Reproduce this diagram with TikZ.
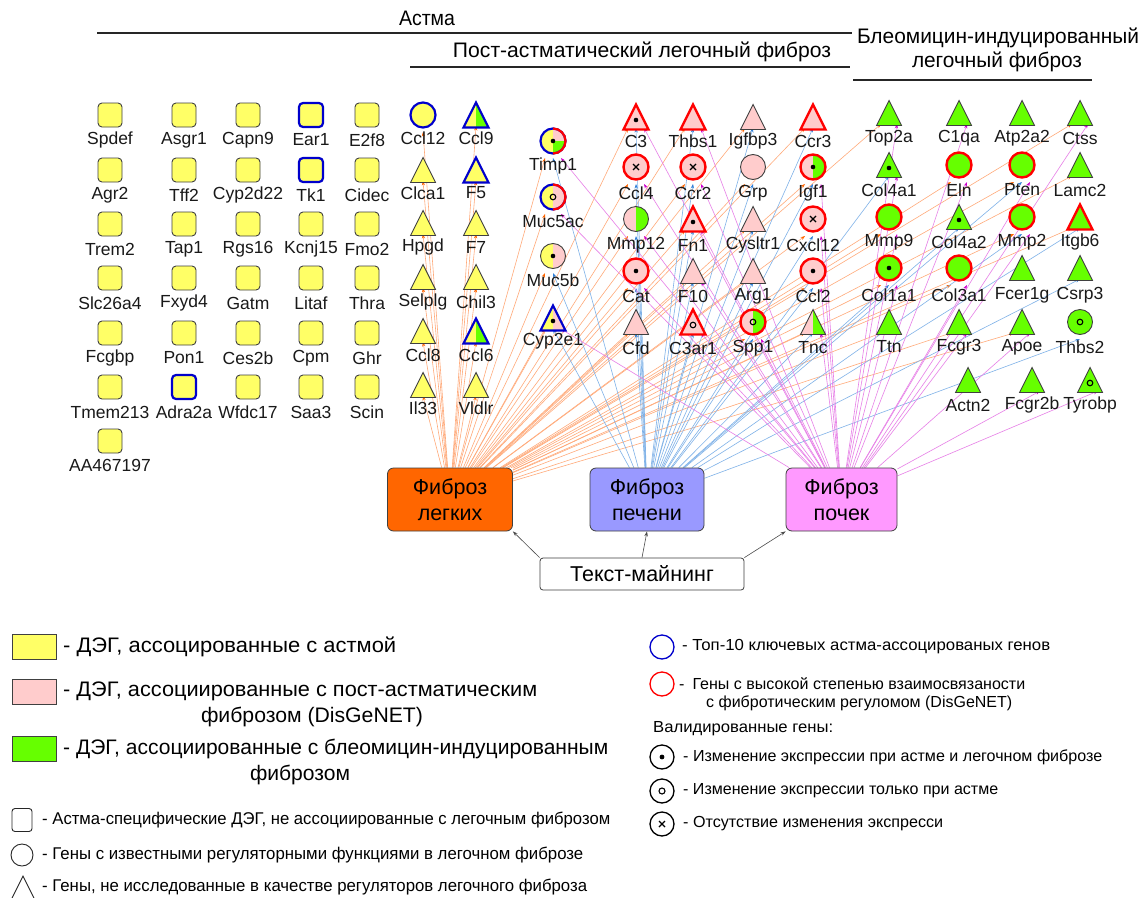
\documentclass[tikz,border=0pt]{standalone}
\usepackage{fontspec}
\setmainfont{Liberation Sans}
\usepackage{graphicx}
\usetikzlibrary{shapes.geometric,arrows.meta,backgrounds}
\pgfdeclarelayer{edges}
\pgfsetlayers{background,edges,main}
\definecolor{gyel}{HTML}{FFFF66}
\definecolor{gpink}{HTML}{FFCCCC}
\definecolor{ggreen}{HTML}{66FF00}
\definecolor{gbord}{HTML}{404040}
\definecolor{gblue}{HTML}{0000CC}
\definecolor{gred}{HTML}{FF0000}
\definecolor{elung}{HTML}{FFAA7A}
\definecolor{eliver}{HTML}{7FB2E8}
\definecolor{ekid}{HTML}{E77FE7}
\definecolor{tlung}{HTML}{FF6600}
\definecolor{tliver}{HTML}{2F7FD8}
\definecolor{tkid}{HTML}{CC00CC}
\definecolor{blung}{HTML}{FF6600}
\definecolor{bliver}{HTML}{9999FF}
\definecolor{bkid}{HTML}{FF99FF}
\newcommand\fitw[2]{\resizebox{#1pt}{\height}{#2}}
% circles and squares
\newcommand\G[6]{%
  \node[#5] (#1) at (#2,#3) {};
  \node[glab] (#1-t) at (#2,#4) {#6};
  \coordinate (#1-c) at (#2,#3);
  \coordinate (#1-o) at ({#2-8},{#3+17});
  \coordinate (#1-b) at ({#2},{#3+17});
  \coordinate (#1-m) at ({#2+8},{#3+17});
}
% triangles
\newcommand\T[6]{%
  \node[tr,#5] (#1) at (#2,{#3+12.5}) {};
  \node[glab] (#1-t) at (#2,#4) {#6};
  \coordinate (#1-c) at (#2,{#3+3});
  \coordinate (#1-o) at ({#2-8},{#3+11});
  \coordinate (#1-b) at ({#2},{#3+11});
  \coordinate (#1-m) at ({#2+8},{#3+11});
}
\newcommand\Mdot[1]{\fill (#1-c) circle (2.3pt);}
\newcommand\Mring[1]{\draw[line width=1.1pt] (#1-c) circle (2.8pt);}
\newcommand\Mcross[1]{\draw[line width=1.1pt] ([shift={(-3,-3)}]#1-c) -- ([shift={(3,3)}]#1-c) ([shift={(-3,3)}]#1-c) -- ([shift={(3,-3)}]#1-c);}
\tikzset{
  base/.style={draw=gbord, line width=0.9pt, inner sep=0pt, outer sep=0pt},
  sq/.style={base, rectangle, rounded corners=4pt, minimum size=24pt, fill=gyel},
  ci/.style={base, circle, minimum size=25pt},
  tr/.style={base, isosceles triangle, isosceles triangle apex angle=53.13, isosceles triangle stretches, shape border rotate=90, minimum width=25pt, minimum height=25pt, anchor=lower side},
  Y/.style={fill=gyel}, P/.style={fill=gpink}, Gr/.style={fill=ggreen},
  YG/.style={fill=gyel, path picture={\fill[ggreen] (path picture bounding box.south) rectangle (path picture bounding box.north east);}},
  YP/.style={fill=gyel, path picture={\fill[gpink] (path picture bounding box.south) rectangle (path picture bounding box.north east);}},
  PG/.style={fill=gpink, path picture={\fill[ggreen] (path picture bounding box.south) rectangle (path picture bounding box.north east);}},
  YPG/.style={fill=gpink, path picture={\fill[gyel] (path picture bounding box.south west) rectangle (path picture bounding box.north); \fill[ggreen] (path picture bounding box.center) rectangle (path picture bounding box.south east);}},
  bl/.style={draw=gblue, line width=2.2pt},
  rd/.style={draw=gred, line width=2.4pt},
  glab/.style={font=\fontsize{17.5}{20}\selectfont, inner sep=0pt, text=black!90},
  hdr/.style={font=\fontsize{21}{25}\selectfont, inner sep=0pt},
  hline/.style={line width=1.3pt, black!85},
  box/.style={rectangle, rounded corners=6pt, draw=gbord, line width=0.8pt, align=center, font=\fontsize{21.5}{25}\selectfont, inner sep=0pt},
  tmarrow/.style={draw=black!70, line width=0.6pt, -{Stealth[length=5pt,width=3.5pt]}},
  eo/.style={draw=elung, line width=0.6pt, -{Stealth[length=4.5pt,width=3.2pt,color=tlung]}},
  eb/.style={draw=eliver, line width=0.6pt, -{Stealth[length=4.5pt,width=3.2pt,color=tliver]}},
  em/.style={draw=ekid, line width=0.6pt, -{Stealth[length=4.5pt,width=3.2pt,color=tkid]}},
  lt/.style={font=\fontsize{21}{25}\selectfont, inner sep=0pt, anchor=west},
  ls/.style={font=\fontsize{17}{20}\selectfont, inner sep=0pt, anchor=west},
  lr/.style={font=\fontsize{16}{19}\selectfont, inner sep=0pt, anchor=west},
  lrect/.style={rectangle, draw=gbord, line width=0.8pt, minimum width=44pt, minimum height=25pt, inner sep=0pt},
  lcirc/.style={circle, line width=1.3pt, minimum size=24pt, inner sep=0pt},
}
\begin{document}
\begin{tikzpicture}[x=1pt,y=-1pt]
\useasboundingbox (0,0) rectangle (1146,897);
\begin{pgfonlayer}{background}
\fill[white] (0,0) rectangle (1146,897);
\end{pgfonlayer}

% headers
\node[hdr] (hA) at (427,18) {\fitw{56}{Астма}};
\node[hdr] (hP) at (642,52) {\fitw{378}{Пост-астматический легочный фиброз}};
\node[hdr] (hB1) at (998,38) {\fitw{282}{Блеомицин-индуцированный}};
\node[hdr] (hB2) at (997,62) {\fitw{170}{легочный фиброз}};
\draw[hline] (97,33) -- (852,33);
\draw[hline] (410,67) -- (850,67);
\draw[hline] (853,80) -- (1092,80);

% squares
\G{Spdef}{110}{115}{140}{sq}{Spdef}
\G{Asgr1}{184}{115}{140}{sq}{Asgr1}
\G{Capn9}{248}{115}{140}{sq}{Capn9}
\G{Ear1}{311}{115}{140}{sq,bl}{Ear1}
\G{E2f8}{367}{115}{140}{sq}{E2f8}
\G{Agr2}{110}{170}{195}{sq}{Agr2}
\G{Tff2}{184}{170}{195}{sq}{Tff2}
\G{Cyp2d22}{248}{170}{195}{sq}{Cyp2d22}
\G{Tk1}{311}{170}{195}{sq,bl}{Tk1}
\G{Cidec}{367}{170}{195}{sq}{Cidec}
\G{Trem2}{110}{224}{249}{sq}{Trem2}
\G{Tap1}{184}{224}{249}{sq}{Tap1}
\G{Rgs16}{248}{224}{249}{sq}{Rgs16}
\G{Kcnj15}{311}{224}{249}{sq}{Kcnj15}
\G{Fmo2}{367}{224}{249}{sq}{Fmo2}
\G{Slc26a4}{110}{278}{303}{sq}{Slc26a4}
\G{Fxyd4}{184}{278}{303}{sq}{Fxyd4}
\G{Gatm}{248}{278}{303}{sq}{Gatm}
\G{Litaf}{311}{278}{303}{sq}{Litaf}
\G{Thra}{367}{278}{303}{sq}{Thra}
\G{Fcgbp}{110}{333}{358}{sq}{Fcgbp}
\G{Pon1}{184}{333}{358}{sq}{Pon1}
\G{Ces2b}{248}{333}{358}{sq}{Ces2b}
\G{Cpm}{311}{333}{358}{sq}{Cpm}
\G{Ghr}{367}{333}{358}{sq}{Ghr}
\G{Tmem213}{110}{387}{412}{sq}{Tmem213}
\G{Adra2a}{184}{387}{412}{sq,bl}{Adra2a}
\G{Wfdc17}{248}{387}{412}{sq}{Wfdc17}
\G{Saa3}{311}{387}{412}{sq}{Saa3}
\G{Scin}{367}{387}{412}{sq}{Scin}
\G{AA467197}{110}{441}{465}{sq}{AA467197}

% asthma columns
\G{Ccl12}{423}{115}{138}{ci,Y,bl}{Ccl12}
\T{Ccl9}{476}{115}{138}{YG,bl}{Ccl9}
\T{Clca1}{423}{170}{193}{Y}{Clca1}
\T{F5}{476}{170}{193}{Y,bl}{F5}
\T{Hpgd}{423}{223}{247}{Y}{Hpgd}
\T{F7}{476}{223}{247}{Y}{F7}
\T{Selplg}{423}{277}{302}{Y}{Selplg}
\T{Chil3}{476}{277}{302}{Y}{Chil3}
\T{Ccl8}{423}{331}{355}{Y}{Ccl8}
\T{Ccl6}{476}{331}{355}{YG,bl}{Ccl6}
\T{Il33}{423}{385}{408}{Y}{Il33}
\T{Vldlr}{476}{385}{408}{Y}{Vldlr}

% mixed column
\G{Timp1}{553}{141}{166}{ci,YPG,bl}{Timp1}
\G{Muc5ac}{553}{197}{222}{ci,YP,bl}{Muc5ac}
\G{Muc5b}{553}{256}{280}{ci,YP}{Muc5b}
\T{Cyp2e1}{553}{318}{341}{YP,bl}{Cyp2e1}
\begin{scope}
\clip ([yshift=5pt]Timp1.north) rectangle ([xshift=5pt,yshift=-5pt]Timp1.south east);
\draw[gred, line width=2.2pt] (Timp1.center) circle (12.5pt);
\end{scope}
\begin{scope}
\clip ([yshift=5pt]Muc5ac.north) rectangle ([xshift=5pt,yshift=-5pt]Muc5ac.south east);
\draw[gred, line width=2.2pt] (Muc5ac.center) circle (12.5pt);
\end{scope}

% pink block
\T{C3}{636}{117}{141}{P,rd}{C3}
\T{Thbs1}{693}{117}{141}{P,rd}{Thbs1}
\T{Igfbp3}{753}{117}{141}{P}{Igfbp3}
\T{Ccr3}{813}{117}{141}{P,rd}{Ccr3}
\G{Ccl4}{636}{167}{193}{ci,P,rd}{Ccl4}
\G{Ccr2}{693}{167}{193}{ci,P,rd}{Ccr2}
\G{Grp}{753}{167}{193}{ci,P}{Grp}
\G{Igf1}{813}{167}{193}{ci,PG,rd}{Igf1}
\G{Mmp12}{636}{219}{245}{ci,PG}{Mmp12}
\T{Fn1}{693}{219}{245}{P,rd}{Fn1}
\T{Cysltr1}{753}{219}{245}{P}{Cysltr1}
\G{Cxcl12}{813}{219}{245}{ci,P,rd}{Cxcl12}
\G{Cat}{636}{271}{296}{ci,P,rd}{Cat}
\T{F10}{693}{271}{296}{P}{F10}
\T{Arg1}{753}{271}{296}{P}{Arg1}
\G{Ccl2}{813}{271}{296}{ci,P,rd}{Ccl2}
\T{Cfd}{636}{322}{348}{P}{Cfd}
\T{C3ar1}{693}{322}{348}{P,rd}{C3ar1}
\G{Spp1}{753}{322}{348}{ci,PG,rd}{Spp1}
\T{Tnc}{813}{322}{348}{PG}{Tnc}

% green block
\T{Top2a}{889}{113}{138}{Gr}{Top2a}
\T{C1qa}{959}{113}{138}{Gr}{C1qa}
\T{Atp2a2}{1022}{113}{138}{Gr}{Atp2a2}
\T{Ctss}{1080}{113}{138}{Gr}{Ctss}
\T{Col4a1}{889}{165}{190}{Gr}{Col4a1}
\G{Eln}{959}{165}{190}{ci,Gr,rd}{Eln}
\G{Pten}{1022}{165}{190}{ci,Gr,rd}{Pten}
\T{Lamc2}{1080}{165}{190}{Gr}{Lamc2}
\G{Mmp9}{889}{217}{242}{ci,Gr,rd}{Mmp9}
\T{Col4a2}{959}{217}{242}{Gr}{Col4a2}
\G{Mmp2}{1022}{217}{242}{ci,Gr,rd}{Mmp2}
\T{Itgb6}{1080}{217}{242}{Gr,rd}{Itgb6}
\G{Col1a1}{889}{268}{295}{ci,Gr,rd}{Col1a1}
\G{Col3a1}{959}{268}{295}{ci,Gr,rd}{Col3a1}
\T{Fcer1g}{1022}{268}{295}{Gr}{Fcer1g}
\T{Csrp3}{1080}{268}{295}{Gr}{Csrp3}
\T{Ttn}{889}{322}{347}{Gr}{Ttn}
\T{Fcgr3}{959}{322}{347}{Gr}{Fcgr3}
\T{Apoe}{1022}{322}{347}{Gr}{Apoe}
\G{Thbs2}{1080}{322}{347}{ci,Gr}{Thbs2}
\T{Actn2}{968}{380}{405}{Gr}{Actn2}
\T{Fcgr2b}{1032}{380}{405}{Gr}{Fcgr2b}
\T{Tyrobp}{1090}{380}{405}{Gr}{Tyrobp}

% markers
\Mdot{Timp1}\Mring{Muc5ac}\Mdot{Muc5b}\Mdot{Cyp2e1}
\Mdot{C3}\Mcross{Ccl4}\Mcross{Ccr2}\Mdot{Igf1}\Mdot{Fn1}\Mcross{Cxcl12}
\Mdot{Cat}\Mdot{Ccl2}\Mring{C3ar1}\Mring{Spp1}
\Mdot{Col4a1}\Mdot{Col4a2}\Mdot{Col1a1}\Mring{Thbs2}\Mring{Tyrobp}

% boxes
\node[box, fill=blung, minimum width=125pt, minimum height=63pt] (lung) at (450,499.5) {Фиброз\\[1pt]легких};
\node[box, fill=bliver, minimum width=114pt, minimum height=63pt] (liver) at (647,499.5) {Фиброз\\[1pt]печени};
\node[box, fill=bkid, minimum width=111pt, minimum height=63pt] (kidney) at (841.5,499.5) {Фиброз\\[1pt]почек};
\node[box, fill=white, rounded corners=3pt, minimum width=204pt, minimum height=32pt] (tm) at (642,574) {Текст-майнинг};
\draw[tmarrow] (tm.north west) -- (lung.south east);
\draw[tmarrow] (tm.north) -- (liver.south);
\draw[tmarrow] (tm.north east) -- (kidney.south west);

% edges
\begin{pgfonlayer}{edges}
\foreach \g in {Ccl12,Clca1,Hpgd,Selplg,Ccl8,Il33,Ccl9,F5,F7,Chil3,Ccl6,Vldlr}
  \draw[eo] (lung) -- (\g-b);
\foreach \g in {Timp1,Muc5ac,Muc5b,Cyp2e1,C3,Thbs1,Igfbp3,Ccr3,Ccl4,Ccr2,Grp,Igf1,Mmp12,Fn1,Cysltr1,Cxcl12,Cat,F10,Arg1,Ccl2,Cfd,Spp1,Tnc,Top2a,Ctss,Eln,Pten,Lamc2,Mmp9,Mmp2,Itgb6,Col1a1,Col3a1,Ttn,Fcgr3,Apoe}
  \draw[eo] (lung) -- (\g-o);
\foreach \g in {Timp1,Muc5b,Cyp2e1,C3,Thbs1,Igfbp3,Ccr3,Ccl4,Ccr2,Grp,Igf1,Mmp12,Fn1,Cysltr1,Cxcl12,Cat,F10,Arg1,Ccl2,Cfd,C3ar1,Spp1,Tnc,Col4a1,Pten,Col4a2,Mmp2,Itgb6,Col1a1,Csrp3,Thbs2}
  \draw[eb] (liver) -- (\g-b);
\foreach \g in {Timp1,Muc5ac,Cyp2e1,C3,Thbs1,Ccl4,Ccr2,Igf1,Mmp12,Fn1,Cxcl12,Cat,F10,Ccl2,C3ar1,Spp1,Tnc,Top2a,C1qa,Ctss,Col4a1,Eln,Pten,Mmp9,Mmp2,Col1a1,Col3a1,Fcgr3,Apoe,Fcgr2b,Tyrobp}
  \draw[em] (kidney) -- (\g-m);
\end{pgfonlayer}

% legend left
\node[lrect, fill=gyel] (Ly) at (34,647) {};
\node[lt] (Lyt) at (63,647) {\fitw{333}{- ДЭГ, ассоцированные с астмой}};
\node[lrect, fill=gpink] (Lp) at (34,692) {};
\node[lt] (Lpt) at (63,691) {\fitw{474}{- ДЭГ, ассоциированные с пост-астматическим}};
\node[lt, anchor=center] (Lpt2) at (312,717) {\fitw{222}{фиброзом (DisGeNET)}};
\node[lrect, fill=ggreen] (Lg) at (34,749) {};
\node[lt] (Lgt) at (63,749) {\fitw{545}{- ДЭГ, ассоциированные с блеомицин-индуцированным}};
\node[lt, anchor=center] (Lgt2) at (300,775) {\fitw{100}{фиброзом}};

\node[rectangle, rounded corners=3pt, draw=black!85, line width=0.9pt, minimum width=20pt, minimum height=23pt] (Ls) at (22,820) {};
\node[ls] (Lst) at (42,820) {\fitw{568}{- Астма-специфические ДЭГ, не ассоциированные с легочным фиброзом}};
\node[circle, draw=black!85, line width=0.9pt, minimum size=22pt, inner sep=0pt] (Lc) at (22,855) {};
\node[ls] (Lct) at (42,855) {\fitw{541}{- Гены с известными регуляторными функциями в легочном фиброзе}};
\draw[black!85, line width=0.9pt] (11,900) -- (23,876) -- (35,900);
\node[ls] (Ltt) at (42,887) {\fitw{545}{- Гены, не исследованные в качестве регуляторов легочного фиброза}};

% legend right
\node[lcirc, draw=gblue] (R1) at (662,647) {};
\node[lr] (R1t) at (682,647) {\fitw{368}{- Топ-10 ключевых астма-ассоцированых генов}};
\node[lcirc, draw=gred] (R2) at (662,684) {};
\node[lr] (R2t) at (679,684) {\fitw{346}{-\enspace Гены с высокой степенью взаимосвязаности}};
\node[lr] (R2t2) at (706,703) {\fitw{306}{с фибротическим регуломом (DisGeNET)}};
\node[lr] (R3) at (653,729) {\fitw{180}{Валидированные гены:}};
\node[lcirc, draw=black] (R4) at (662,757) {};
\fill (R4.center) circle (2.4pt);
\node[lr] (R4t) at (683,757) {\fitw{419}{- Изменение экспрессии при астме и легочном фиброзе}};
\node[lcirc, draw=black] (R5) at (662,791) {};
\draw[line width=1.1pt] (R5.center) circle (3pt);
\node[lr] (R5t) at (683,791) {\fitw{315}{- Изменение экспрессии только при астме}};
\node[lcirc, draw=black] (R6) at (662,824) {};
\draw[line width=1.1pt] ([shift={(-3,-3)}]R6.center) -- ([shift={(3,3)}]R6.center) ([shift={(-3,3)}]R6.center) -- ([shift={(3,-3)}]R6.center);
\node[lr] (R6t) at (683,824) {\fitw{260}{- Отсутствие изменения экспресси}};
\end{tikzpicture}
\end{document}
